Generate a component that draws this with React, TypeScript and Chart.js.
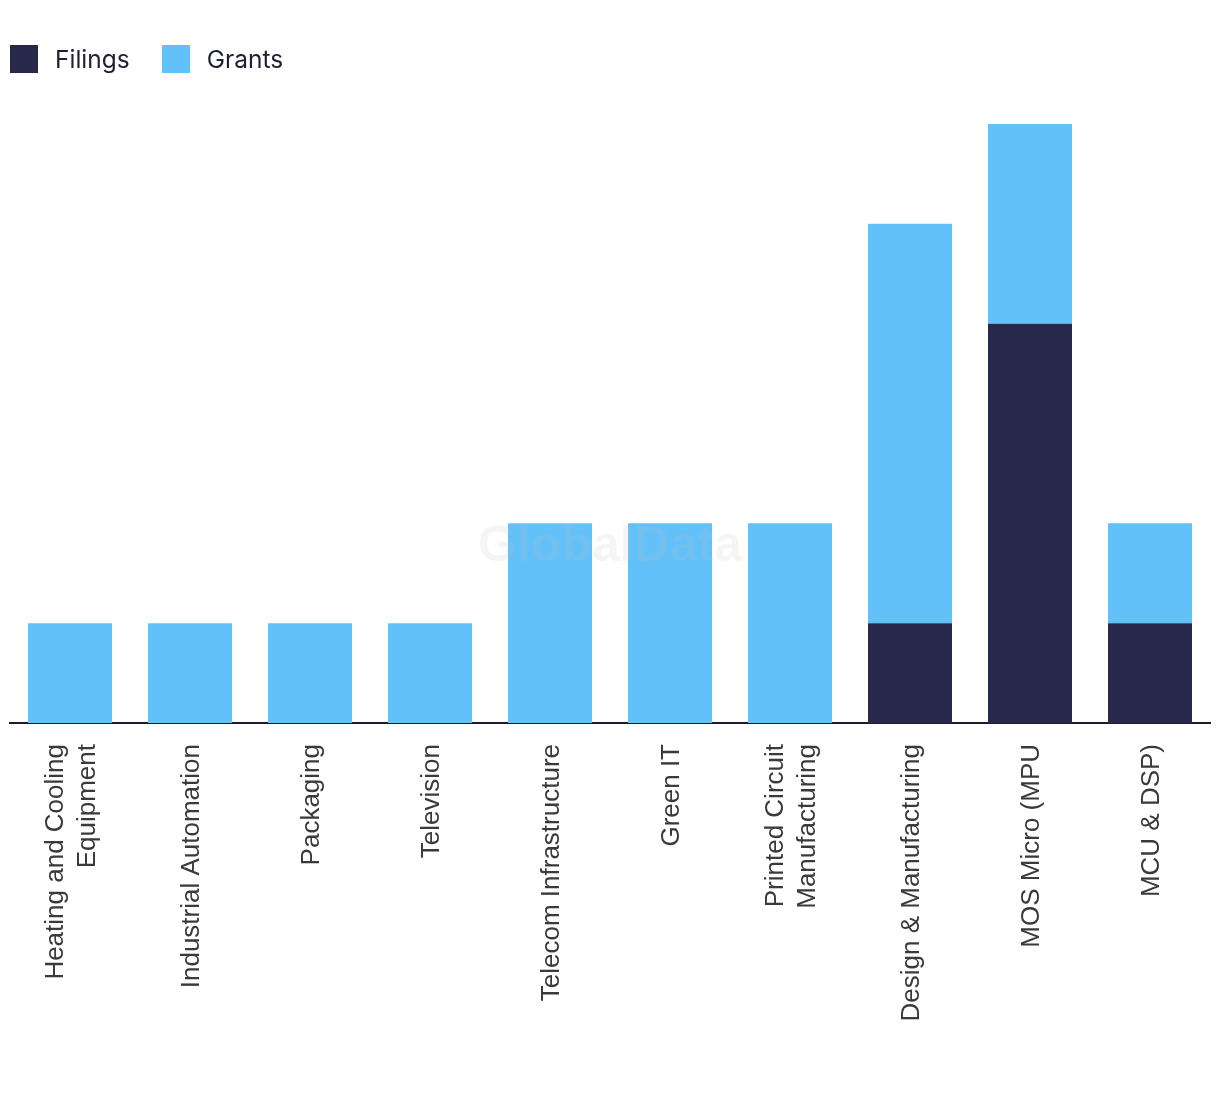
import React, { useEffect, useRef } from "react";
import { Chart, registerables } from "chart.js";

Chart.register(...registerables);

const categories: (string | string[])[] = [
  ["Heating and Cooling", "Equipment"],
  "Industrial Automation",
  "Packaging",
  "Television",
  "Telecom Infrastructure",
  "Green IT",
  ["Printed Circuit", "Manufacturing"],
  "Design & Manufacturing",
  "MOS Micro (MPU",
  "MCU & DSP)",
];

const filings = [0, 0, 0, 0, 0, 0, 0, 1, 4, 1];
const grants = [1, 1, 1, 1, 2, 2, 2, 4, 2, 1];

const seriesNames = ["Filings", "Grants"];
const seriesColors = ["#27284a", "#63c1f9"];

const W = 1220;
const H = 1094;
const LABEL_FONT = "26px 'Liberation Sans', Arial, sans-serif";
const LABEL_LINE = 32;
const LABEL_GAP = 21;
const LABEL_SHIFT = 2;

const watermark = {
  id: "watermark",
  afterDatasetsDraw(chart: any) {
    const ctx = chart.ctx;
    ctx.save();
    ctx.font = "bold 50px 'Liberation Sans', Arial, sans-serif";
    ctx.fillStyle = "rgba(190,190,190,0.15)";
    ctx.textAlign = "center";
    ctx.textBaseline = "middle";
    ctx.fillText("GlobalData", chart.width / 2, chart.height / 2);
    ctx.restore();
  },
};

// Draws the category labels rotated, with multi-line labels centred on the tick
const xLabels = {
  id: "xLabels",
  afterDraw(chart: any) {
    const scale = chart.scales.x;
    const ctx = chart.ctx;
    const labels = chart.data.labels as (string | string[])[];
    ctx.save();
    ctx.font = LABEL_FONT;
    ctx.fillStyle = "#3a3a3a";
    ctx.textAlign = "right";
    ctx.textBaseline = "middle";
    labels.forEach((lab, i) => {
      const lines = Array.isArray(lab) ? lab : [lab];
      const px = scale.getPixelForTick(i) + LABEL_SHIFT;
      const y = scale.top + LABEL_GAP;
      lines.forEach((line, j) => {
        const x = px + (j - (lines.length - 1) / 2) * LABEL_LINE;
        ctx.save();
        ctx.translate(x, y);
        ctx.rotate(-Math.PI / 2);
        ctx.fillText(line, 0, 0);
        ctx.restore();
      });
    });
    ctx.restore();
  },
};

export default function App() {
  const ref = useRef<HTMLCanvasElement | null>(null);

  useEffect(() => {
    document.body.style.margin = "0";
    if (!ref.current) return;
    const chart = new Chart(ref.current, {
      type: "bar",
      data: {
        labels: categories,
        datasets: [
          {
            label: seriesNames[0],
            data: filings,
            backgroundColor: seriesColors[0],
            categoryPercentage: 0.7,
            barPercentage: 1,
          },
          {
            label: seriesNames[1],
            data: grants,
            backgroundColor: seriesColors[1],
            categoryPercentage: 0.7,
            barPercentage: 1,
          },
        ],
      },
      options: {
        responsive: false,
        animation: false,
        layout: { padding: { top: 124, left: 10, right: 10, bottom: 0 } },
        plugins: {
          legend: { display: false },
          tooltip: { enabled: false },
        },
        scales: {
          x: {
            stacked: true,
            grid: { display: false, drawTicks: false },
            border: { display: true, color: "#1b1b2b", width: 2 },
            ticks: { display: false, autoSkip: false },
            afterFit: (scale: any) => {
              scale.height = H - 723;
            },
          },
          y: {
            stacked: true,
            display: false,
            min: 0,
            max: 6,
          },
        },
      },
      plugins: [watermark, xLabels],
    });
    return () => chart.destroy();
  }, []);

  return (
    <div style={{ position: "relative", width: W, height: H, background: "#fff" }}>
      <canvas ref={ref} width={W} height={H} style={{ width: W, height: H, display: "block" }} />
      <div
        style={{
          position: "absolute",
          left: 10,
          top: 44,
          display: "flex",
          alignItems: "center",
          fontFamily: "Inter, 'Noto Sans', sans-serif",
          fontSize: 24.5,
          color: "#1e1f33",
        }}
      >
        {seriesNames.map((name, i) => (
          <div key={name} style={{ display: "flex", alignItems: "center", marginRight: 32 }}>
            <span
              style={{
                display: "inline-block",
                width: 28,
                height: 28,
                background: seriesColors[i],
                marginRight: 17,
              }}
            />
            <span>{name}</span>
          </div>
        ))}
      </div>
    </div>
  );
}
